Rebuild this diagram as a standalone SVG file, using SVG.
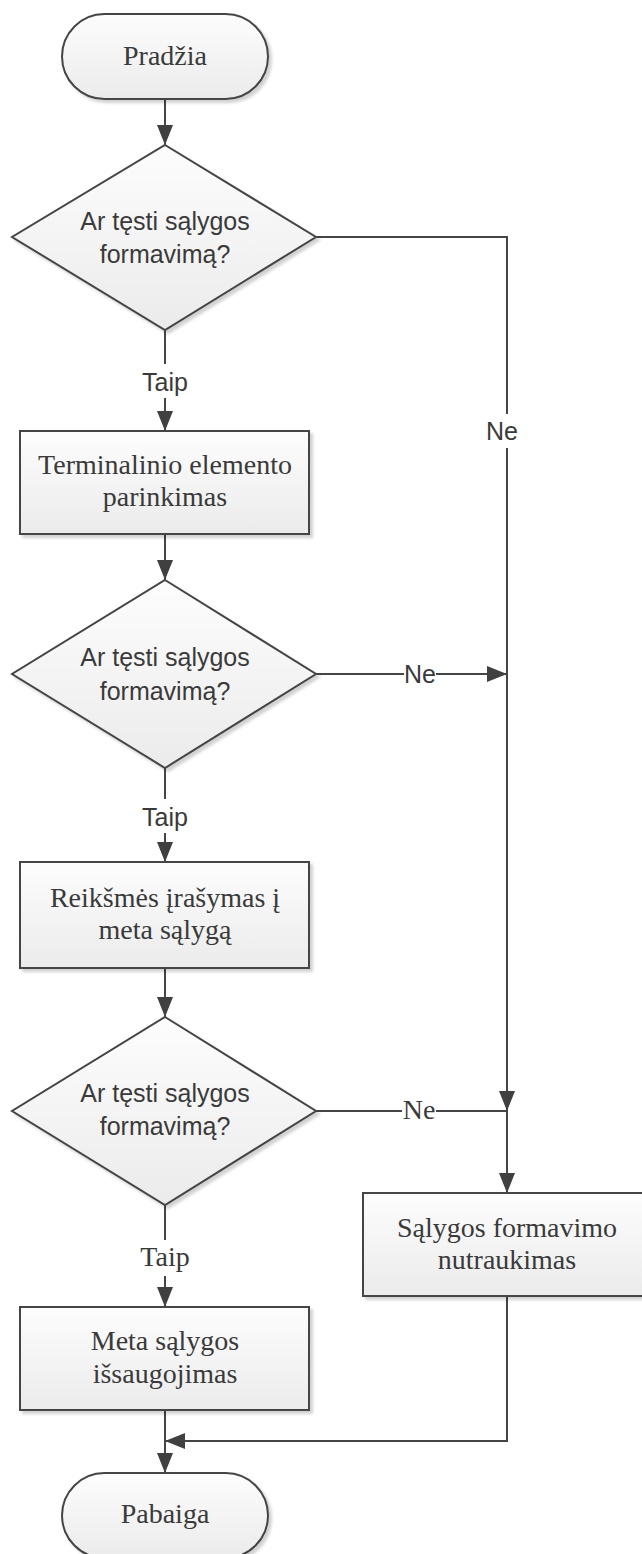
<svg xmlns="http://www.w3.org/2000/svg" width="642" height="1554" viewBox="0 0 642 1554">
<style>
.shape{fill:url(#g);stroke:#454545;stroke-width:2;filter:url(#sh)}
.serif{font-family:"Liberation Serif","Times New Roman",serif;font-size:28px;fill:#3a3a3a;text-anchor:middle}
.sans{font-family:"Liberation Sans",Arial,sans-serif;font-size:25px;fill:#3a3a3a;text-anchor:middle}
.c{fill:none;stroke:#454545;stroke-width:2}
.a{marker-end:url(#ar)}
.bg{fill:#ffffff}
</style>
<defs>
<linearGradient id="g" x1="0" y1="0" x2="0" y2="1">
<stop offset="0" stop-color="#fdfdfd"/>
<stop offset="1" stop-color="#ebebeb"/>
</linearGradient>
<filter id="sh" x="-10%" y="-10%" width="125%" height="125%">
<feDropShadow dx="3" dy="3" stdDeviation="1.5" flood-color="#000" flood-opacity="0.18"/>
</filter>
<marker id="ar" markerUnits="userSpaceOnUse" markerWidth="22" markerHeight="18" refX="20" refY="8" orient="auto" viewBox="0 0 22 18">
<path d="M0,0 L20,8 L0,16 z" fill="#404040"/>
</marker>
</defs>

<g id="connectors">
<line class="c a" x1="165" y1="99" x2="165" y2="145"/>
<line class="c a" x1="165" y1="330" x2="165" y2="431"/>
<line class="c a" x1="165" y1="534" x2="165" y2="580"/>
<line class="c a" x1="165" y1="768" x2="165" y2="862"/>
<line class="c a" x1="165" y1="968" x2="165" y2="1017"/>
<line class="c a" x1="165" y1="1205" x2="165" y2="1307"/>
<line class="c a" x1="165" y1="1410" x2="165" y2="1473"/>
<polyline class="c a" points="316,237 507,237 507,1111"/>
<line class="c a" x1="316" y1="674" x2="507" y2="674"/>
<line class="c" x1="316" y1="1111" x2="507" y2="1111"/>
<line class="c a" x1="507" y1="1111" x2="507" y2="1193"/>
<polyline class="c a" points="507,1296 507,1441 165,1441"/>

<rect class="bg" x="138" y="364" width="54" height="34"/>
<text class="sans" x="165" y="391">Taip</text>
<rect class="bg" x="485" y="414" width="36" height="34"/>
<text class="sans" x="502" y="440">Ne</text>
<rect class="bg" x="404" y="660" width="32" height="28"/>
<text class="sans" x="420" y="683">Ne</text>
<rect class="bg" x="138" y="799" width="54" height="34"/>
<text class="sans" x="165" y="826">Taip</text>
<rect class="bg" x="402" y="1097" width="34" height="28"/>
<text class="serif" x="419" y="1119">Ne</text>
<rect class="bg" x="138" y="1240" width="54" height="36"/>
<text class="serif" x="165" y="1266">Taip</text>
</g>

<g id="start">
<rect class="shape" x="62" y="14" width="206" height="85" rx="42.5" ry="42.5"/>
<text class="serif" x="165" y="65">Pradžia</text>
</g>

<g id="decision1">
<polygon class="shape" points="165,145 316,237 165,330 12,237"/>
<text class="sans" x="165" y="230">Ar tęsti sąlygos</text>
<text class="sans" x="165" y="263">formavimą?</text>
</g>

<g id="terminal-select">
<rect class="shape" x="20" y="431" width="289" height="103"/>
<text class="serif" x="165" y="474">Terminalinio elemento</text>
<text class="serif" x="165" y="506">parinkimas</text>
</g>

<g id="decision2">
<polygon class="shape" points="165,580 316,674 165,768 12,674"/>
<text class="sans" x="165" y="666">Ar tęsti sąlygos</text>
<text class="sans" x="165" y="700">formavimą?</text>
</g>

<g id="value-write">
<rect class="shape" x="20" y="862" width="289" height="106"/>
<text class="serif" x="165" y="907">Reikšmės įrašymas į</text>
<text class="serif" x="165" y="939">meta sąlygą</text>
</g>

<g id="decision3">
<polygon class="shape" points="165,1017 316,1111 165,1205 12,1111"/>
<text class="sans" x="165" y="1102">Ar tęsti sąlygos</text>
<text class="sans" x="165" y="1135">formavimą?</text>
</g>

<g id="abort">
<rect class="shape" x="363" y="1193" width="290" height="103"/>
<text class="serif" x="507" y="1237">Sąlygos formavimo</text>
<text class="serif" x="507" y="1269">nutraukimas</text>
</g>

<g id="save">
<rect class="shape" x="20" y="1307" width="289" height="103"/>
<text class="serif" x="165" y="1350">Meta sąlygos</text>
<text class="serif" x="165" y="1383">išsaugojimas</text>
</g>

<g id="end">
<rect class="shape" x="62" y="1473" width="206" height="85" rx="42.5" ry="42.5"/>
<text class="serif" x="165" y="1523">Pabaiga</text>
</g>
</svg>
